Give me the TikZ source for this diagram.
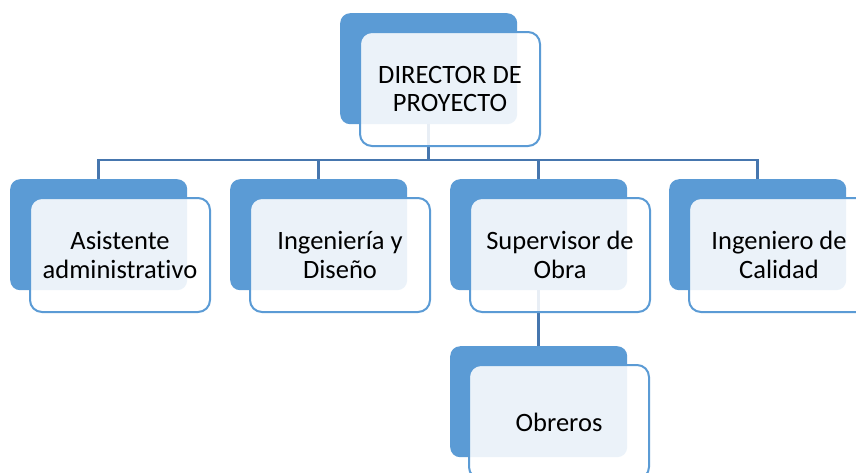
\documentclass[tikz,border=0pt]{standalone}
\usepackage{fontspec}
\setmainfont{Carlito}[Ligatures=NoCommon]
\usetikzlibrary{backgrounds}
\definecolor{backblue}{HTML}{5B9BD5}
\definecolor{linkblue}{HTML}{4676AE}
\begin{document}
\begin{tikzpicture}[x=1pt,y=-1pt,
  backbox/.style={draw=none, fill=backblue, rounded corners=10pt, minimum width=177pt, minimum height=111pt, anchor=north west, inner sep=0pt},
  frontbox/.style={draw=backblue, line width=2pt, fill=white, fill opacity=0.88, text opacity=1, rounded corners=12pt, minimum width=180pt, minimum height=114pt, anchor=north west, inner sep=0pt, align=center, font=\fontsize{26.5}{28.5}\selectfont},
  link/.style={draw=linkblue, line width=2.8pt}]
\useasboundingbox (0,0) rectangle (856,472);
\clip (0,0) rectangle (856,472);
% back boxes
\node[backbox] (dirb) at (340,13) {};
\node[backbox] (asib) at (10,179) {};
\node[backbox] (ingb) at (230,179) {};
\node[backbox] (supb) at (450,179) {};
\node[backbox] (calb) at (669,179) {};
\node[backbox] (obrb) at (450,346) {};
% front boxes
\node[frontbox] (dir) at (359,31) {DIRECTOR DE\\PROYECTO};
\node[frontbox] (asi) at (29,197) {Asistente\\administrativo};
\node[frontbox] (ing) at (249,197) {Ingeniería y\\Diseño};
\node[frontbox] (sup) at (469,197) {Supervisor de\\Obra};
\node[frontbox] (cal) at (688,197) {Ingeniero de\\Calidad};
\node[frontbox] (obr) at (468,364) {Obreros};
% connectors
\coordinate (bus) at (428.5,160);
\begin{pgfonlayer}{background}
\fill[white] (0,0) rectangle (856,472);
\draw[link] (dirb.south) -- (dirb.south |- bus) -| (asib.north);
\draw[link] (dirb.south) -- (dirb.south |- bus) -| (ingb.north);
\draw[link] (dirb.south) -- (dirb.south |- bus) -| (supb.north);
\draw[link] (dirb.south) -- (dirb.south |- bus) -| (calb.north);
\draw[link] (supb.south) -- (obrb.north);
\end{pgfonlayer}
\end{tikzpicture}
\end{document}
